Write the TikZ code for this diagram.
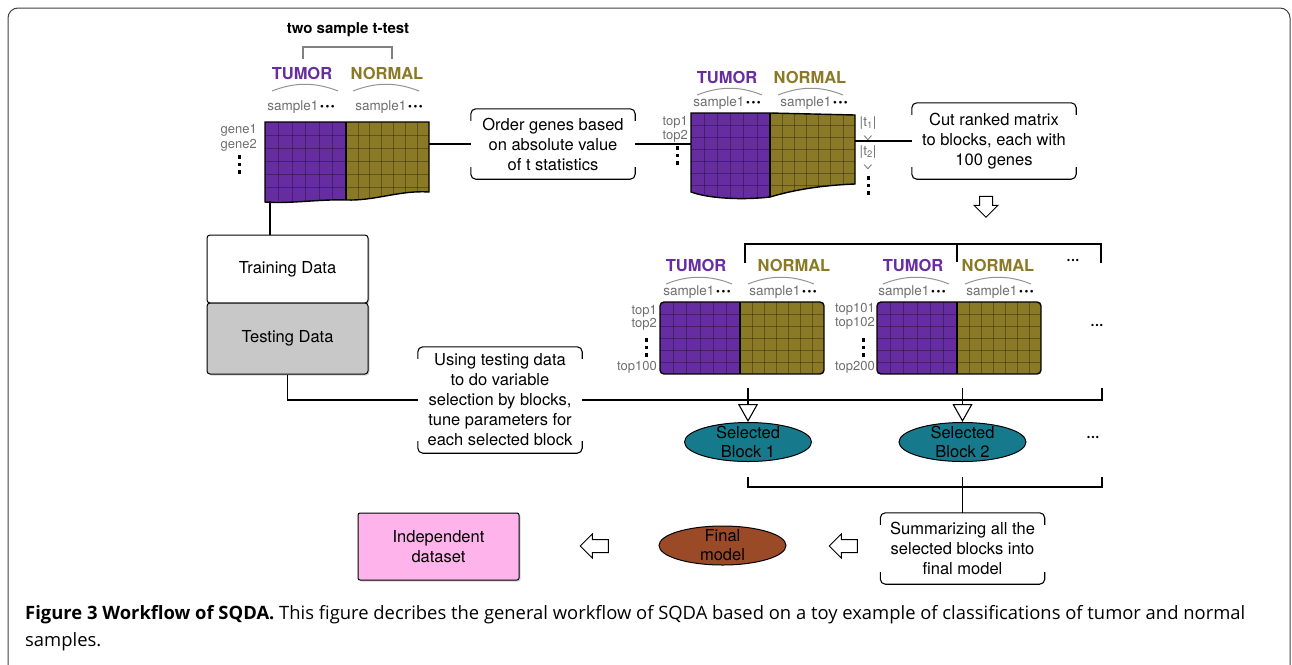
\documentclass[tikz,border=0pt]{standalone}
\usepackage{fontspec}
\setmainfont{TeX Gyre Heros}
\newfontfamily\capfont{Open Sans}
\usetikzlibrary{shapes,arrows,positioning,calc,shadows,arrows.meta}
\definecolor{tumorcol}{RGB}{102,45,160}
\definecolor{normalcol}{RGB}{138,121,38}
\definecolor{selcol}{RGB}{22,122,140}
\definecolor{finalcol}{RGB}{155,74,40}
\definecolor{indcol}{RGB}{254,180,234}
\definecolor{testcol}{RGB}{200,200,200}
\definecolor{labelgray}{RGB}{110,110,110}

\newcommand{\sampledots}{{\color{black}\fontsize{11}{11}\selectfont\,•\kern1.5pt•\kern1.5pt•}}
% corner brackets round a text box
\newcommand{\openbox}[1]{%
  \draw[boxline] ([yshift=-12pt]#1.north west) -- (#1.north west) -- (#1.north east) -- ([yshift=-12pt]#1.north east);
  \draw[boxline] ([yshift=12pt]#1.south west) -- (#1.south west) -- (#1.south east) -- ([yshift=12pt]#1.south east);}
% three square dots, downwards
\newcommand{\vdotsq}[2]{\foreach \k in {0,1,2} \fill (#1-1.5,#2+\k*7.5) rectangle ++(3,3.5);}

\begin{document}
\begin{tikzpicture}[x=1pt, y=-1pt,
    conn/.style={line width=1.1pt},
    boxline/.style={line width=1.1pt, rounded corners=5pt},
    textbox/.style={minimum width=164pt, align=center, font=\fontsize{16.5}{20}\selectfont, inner sep=0pt},
    databox/.style={rectangle, draw, fill=white, line width=1pt, rounded corners=3pt, minimum width=161pt, align=center, font=\fontsize{16.5}{20}\selectfont, drop shadow={shadow xshift=1.5pt, shadow yshift=-1.5pt, opacity=0.35}},
    grouplab/.style={font=\bfseries\fontsize{16.5}{18}\selectfont, inner sep=0pt},
    tumlab/.style={grouplab, text=tumorcol},
    norlab/.style={grouplab, text=normalcol},
    smp/.style={font=\fontsize{13.5}{15}\selectfont, text=labelgray, inner sep=0pt},
    rowlab/.style={font=\fontsize{13}{14}\selectfont, text=labelgray, anchor=east, inner sep=0pt},
    grouparc/.style={draw=gray!85, line width=1pt},
    matline/.style={line width=1.4pt},
    gridline/.style={draw=black, draw opacity=0.3, line width=0.6pt},
    blockarrow/.style={single arrow, draw, fill=white, line width=1pt, minimum height=21pt, single arrow head extend=5.5pt, inner sep=6pt},
    selblock/.style={ellipse, draw, line width=1pt, fill=selcol, minimum width=127pt, minimum height=39pt},
    ellipsetext/.style={align=center, font=\fontsize{16.5}{19}\selectfont, inner sep=0pt},
    moredots/.style={font=\bfseries\fontsize{16}{16}\selectfont}
]
\useasboundingbox (0,0) rectangle (1292,664);

% Frame
\draw[black!75, line width=1pt, rounded corners=10pt] (8,680) -- (8,8) -- (1290,8) -- (1290,680);

% Training matrix
\node[font=\bfseries\fontsize{15}{17}\selectfont] (ttest) at (348,30) {two sample t-test};
\draw[gray, line width=1.1pt] (303,59) -- (303,47) -- (392,47) -- (392,59);
\node[tumlab] (tum1) at (302,73) {TUMOR};
\node[norlab] (nor1) at (387,73) {NORMAL};
\draw[grouparc] (272,91) .. controls (295,82) and (315,82) .. (338,91);
\draw[grouparc] (353,91) .. controls (376,82) and (396,82) .. (419,91);
\node[smp] (s1a) at (301,107) {sample1\sampledots};
\node[smp] (s1b) at (389,107) {sample1\sampledots};
\node[rowlab] (gene1) at (257,130) {gene1};
\node[rowlab] (gene2) at (257,145) {gene2};
\vdotsq{239}{155}

\begin{scope}
  \clip (265,202) -- (265,122) -- (429,122) -- (429,192) .. controls (400,190) and (375,201) .. (346,200) .. controls (320,199) and (290,204) .. cycle;
  \fill[tumorcol] (260,115) rectangle (346,210);
  \fill[normalcol] (346,115) rectangle (435,210);
  \foreach \k in {1,...,5} \draw[gridline] (265+\k*13.5,115) -- ++(0,95);
  \foreach \k in {1,...,6} \draw[gridline] (346+\k*11.86,115) -- ++(0,95);
  \foreach \k in {1,...,5} \draw[gridline] (260,122+\k*13) -- ++(175,0);
\end{scope}
\draw[matline] (265,202) -- (265,122) -- (429,122) -- (429,192) .. controls (400,190) and (375,201) .. (346,200) .. controls (320,199) and (290,204) .. cycle;
\draw[matline] (346,122) -- (346,200);
\coordinate (m1east) at (429,144);
\coordinate (m1south) at (270,201);

% Ranked matrix
\node[tumlab] (tum2) at (727,77) {TUMOR};
\node[norlab] (nor2) at (810,77) {NORMAL};
\draw[grouparc] (697,95) .. controls (720,86) and (740,86) .. (762,95);
\draw[grouparc] (778,95) .. controls (801,86) and (821,86) .. (843,95);
\node[smp] (s2a) at (727,103) {sample1\sampledots};
\node[smp] (s2b) at (814,103) {sample1\sampledots};
\node[rowlab] (top1) at (688,122) {top1};
\node[rowlab] (top2) at (688,136) {top2};
\vdotsq{677}{146}
\node[smp] (abs1) at (868,123) {|t\textsubscript{1}|};
\node[smp, rotate=-90] (gt1) at (868,138) {>};
\node[smp] (abs2) at (868,152) {|t\textsubscript{2}|};
\node[smp, rotate=-90] (gt2) at (868,167) {>};
\vdotsq{868}{176}

\begin{scope}
  \clip (691,192) -- (691,113) -- (770,113) -- (855,115) -- (855,184) .. controls (830,185) and (800,188) .. (770,197) .. controls (745,200) and (710,199) .. cycle;
  \fill[tumorcol] (685,105) rectangle (770,205);
  \fill[normalcol] (770,105) rectangle (860,205);
  \foreach \k in {1,...,5} \draw[gridline] (691+\k*13.17,105) -- ++(0,100);
  \foreach \k in {1,...,6} \draw[gridline] (770+\k*12.14,105) -- ++(0,100);
  \foreach \k in {1,...,6} \draw[gridline] (685,113+\k*12) -- ++(175,0);
\end{scope}
\draw[matline] (691,192) -- (691,113) -- (770,113) -- (855,115) -- (855,184) .. controls (830,185) and (800,188) .. (770,197) .. controls (745,200) and (710,199) .. cycle;
\draw[matline] (770,113) -- (770,197);
\coordinate (m2west) at (691,144);
\coordinate (m2east) at (855,141);

% Text boxes
\node[textbox, minimum height=70pt] (order) at (553,144) {Order genes based\\on absolute value\\of t statistics};
\openbox{order}
\node[textbox, minimum height=76pt] (cut) at (994,141) {Cut ranked matrix\\to blocks, each with\\100 genes};
\openbox{cut}
\node[textbox, minimum height=106pt] (using) at (500,400) {Using testing data\\to do variable\\selection by blocks,\\tune parameters for\\each selected block};
\openbox{using}
\node[textbox, minimum height=71pt] (summ) at (962.5,548.5) {Summarizing all the\\selected blocks into\\final model};
\openbox{summ}

\draw[conn] (m1east) -- (order.west);
\draw[conn] (order.east) -- (m2west);
\draw[conn] (m2east) -- (cut.west);

\node[blockarrow, rotate=-90] (down) at (986,203.5) {};

% Blocks of 100 genes
\node[tumlab] (tum3) at (696,265) {TUMOR};
\node[norlab] (nor3) at (794,265) {NORMAL};
\node[tumlab] (tum4) at (913,265) {TUMOR};
\node[norlab] (nor4) at (998,265) {NORMAL};
\foreach \dx in {0,217} {
  \draw[grouparc] (666+\dx,284) .. controls (688+\dx,275) and (710+\dx,275) .. (732+\dx,284);
  \draw[grouparc] (748+\dx,284) .. controls (770+\dx,275) and (792+\dx,275) .. (814+\dx,284);
  \begin{scope}
    \clip[rounded corners=4pt] (660+\dx,302) rectangle (824+\dx,374);
    \fill[tumorcol] (660+\dx,302) rectangle (740+\dx,374);
    \fill[normalcol] (740+\dx,302) rectangle (824+\dx,374);
    \foreach \k in {1,...,5} \draw[gridline] (660+\dx+\k*13.33,302) -- ++(0,72);
    \foreach \k in {1,...,6} \draw[gridline] (740+\dx+\k*12,302) -- ++(0,72);
    \foreach \k in {1,...,5} \draw[gridline] (660+\dx,302+\k*12) -- ++(164,0);
  \end{scope}
  \draw[matline, rounded corners=4pt] (660+\dx,302) rectangle (824+\dx,374);
  \draw[matline] (740+\dx,302) -- (740+\dx,374);
}
\node[smp] (s3a) at (697,292) {sample1\sampledots};
\node[smp] (s3b) at (783,292) {sample1\sampledots};
\node[smp] (s4a) at (912,292) {sample1\sampledots};
\node[smp] (s4b) at (1000,292) {sample1\sampledots};
\node[rowlab] (b1top1) at (657,311) {top1};
\node[rowlab] (b1top2) at (657,324) {top2};
\vdotsq{646}{338}
\node[rowlab] (b1top100) at (657,367) {top100};
\node[rowlab] (b2top101) at (875,309) {top101};
\node[rowlab] (b2top102) at (875,323) {top102};
\vdotsq{863}{338}
\node[rowlab] (b2top200) at (875,367) {top200};
\node[moredots] (dotsa) at (1073,262) {···};
\node[moredots] (dotsb) at (1097,327) {···};

\coordinate (t1) at (745,263);
\coordinate (t2) at (957,262);
\coordinate (t3) at (1101,263);
\draw[conn] (t1) -- ++(0,-19) -| (t3);
\draw[conn] (t2) -- ++(0,-18);

% Training / testing split
\node[databox, minimum height=68pt] (training) at (287.5,269) {Training Data};
\node[databox, minimum height=71pt, fill=testcol] (testing) at (287.5,338.5) {Testing Data};
\draw[conn] (m1south) -- (m1south |- training.north);

% Variable selection
\node[selblock, label={[ellipsetext]center:Selected\\Block 1}] (sel1) at (748,442) {};
\node[selblock, label={[ellipsetext]center:Selected\\Block 2}] (sel2) at (962.5,442) {};
\node[moredots] (dotsc) at (1093,439) {···};

\coordinate (b1) at (748,400);
\coordinate (b2) at (962.5,400);
\coordinate (lineend) at (1102,400);
\draw[conn] (testing.south) |- (using.west);
\draw[conn] (using.east) -- (lineend) -- ++(0,-12);
\draw[conn] (b1) -- ++(0,-12);
\draw[conn] (b2) -- ++(0,-12);
\draw[conn, -{Triangle[open, width=20pt, length=18pt]}] (b1) -- (sel1.north);
\draw[conn, -{Triangle[open, width=20pt, length=18pt]}] (b2) -- (sel2.north);

\coordinate (c1) at (748,477);
\coordinate (c2) at (962.5,477);
\coordinate (c3) at (1102,477);
\draw[conn] (c1) -- ++(0,10) -| (c3);
\draw[conn] (c2) -- (summ.north);

% Final model
\node[selblock, fill=finalcol, label={[ellipsetext]center:Final\\model}] (final) at (722.5,545.5) {};
\node[blockarrow, rotate=180, minimum height=28pt] (left2) at (846.5,546) {};
\node[blockarrow, rotate=180, minimum height=28pt] (left1) at (597.5,546) {};
\node[databox, fill=indcol, minimum height=67pt, rounded corners=2pt] (indep) at (438.5,546.5) {Independent\\dataset};

% Caption
\node[anchor=west, align=left, inner sep=0pt, font=\capfont\fontsize{18.4}{27}\selectfont] (caption) at (25,628.5) {\textbf{Figure 3 Workflow of SQDA.} This figure decribes the general workflow of SQDA based on a toy example of classifications of tumor and normal\\samples.};
\end{tikzpicture}
\end{document}
